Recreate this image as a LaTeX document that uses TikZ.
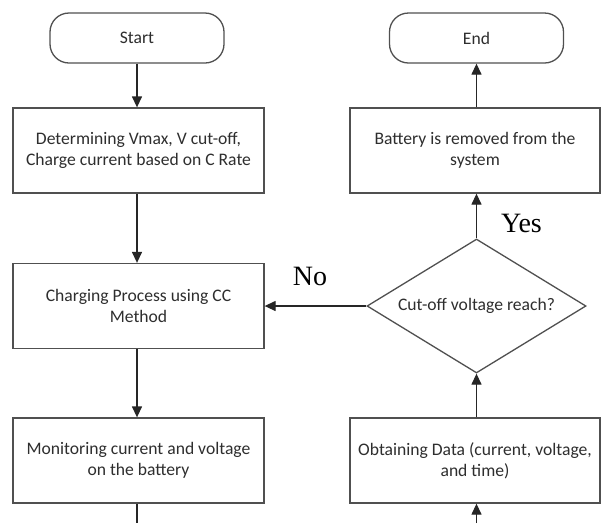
\documentclass[tikz,border=0pt]{standalone}
\usepackage{fontspec}
\setmainfont{Carlito}
\newfontfamily\serifl{Liberation Serif}
\usetikzlibrary{shapes.geometric,arrows.meta}
\definecolor{txt}{HTML}{2E2E2E}
\definecolor{edge}{HTML}{505050}
\begin{document}
\begin{tikzpicture}[x=1pt,y=-1pt,
  base/.style={draw=edge, line width=1.3pt, text=txt, align=center,
    font=\fontsize{17.6}{21}\selectfont, inner sep=0pt},
  terminal/.style={base, rounded corners=19pt, minimum width=174pt, minimum height=50pt},
  procbox/.style={base, minimum width=251pt, minimum height=85pt},
  decision/.style={base, diamond, shape aspect=1.634, minimum width=219pt, minimum height=134pt},
  conn/.style={draw=black!85, line width=1.3pt, -{Triangle[width=10pt,length=11pt]}},
  plain/.style={draw=black!85, line width=1.3pt},
  lbl/.style={font=\serifl\fontsize{28}{30}\selectfont, anchor=base, inner sep=0pt}]
\useasboundingbox (0,0) rectangle (601,523);
\fill[white] (0,0) rectangle (601,523);
% left column
\node[terminal] (start) at (137,38) {Start};
\node[procbox] (det) at (138.5,150.5) {Determining Vmax, V cut-off,\\Charge current based on C Rate};
\node[procbox] (chg) at (138.5,306) {Charging Process using CC\\Method};
\node[procbox] (mon) at (138.5,460.5) {Monitoring current and voltage\\on the battery};
% right column
\node[terminal] (end) at (476.5,38) {End};
\node[procbox, minimum width=250pt] (bat) at (475,150.5) {Battery is removed from the\\system};
\node[decision] (dec) at (476.5,306) {Cut-off voltage reach?};
\node[procbox, minimum width=250pt] (obt) at (475,460.5) {Obtaining Data (current, voltage,\\and time)};
\coordinate (lbot) at (137,523);
\coordinate (rbot) at (476.5,523);
% connectors
\draw[conn] (start.south -| lbot) -- (det.north -| lbot);
\draw[conn] (det.south -| lbot) -- (chg.north -| lbot);
\draw[conn] (chg.south -| lbot) -- (mon.north -| lbot);
\draw[plain] (mon.south -| lbot) -- (lbot);
\draw[conn] (rbot) -- (obt.south -| rbot);
\draw[conn] (obt.north -| dec.south) -- (dec.south);
\draw[conn] (dec.north) -- (dec.north |- bat.south);
\draw[conn] (dec.north |- bat.north) -- (dec.north |- end.south);
\draw[conn] (dec.west) -- (chg.east |- dec.west);
% labels
\node[lbl] (no) at (310,285) {No};
\node[lbl] (yes) at (521.5,232) {Yes};
\end{tikzpicture}
\end{document}
